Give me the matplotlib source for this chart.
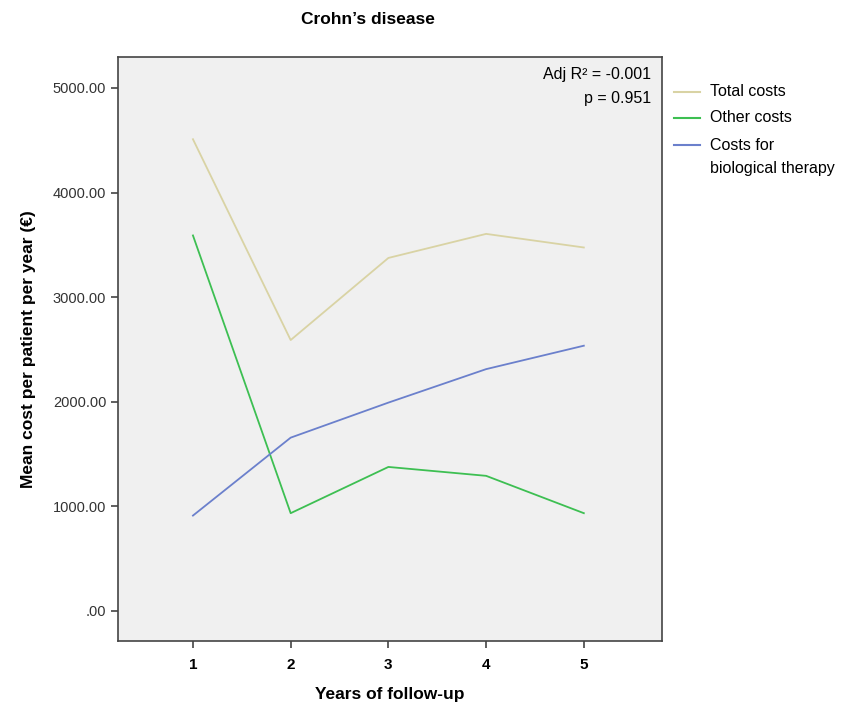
import matplotlib
matplotlib.use("Agg")
import matplotlib.pyplot as plt
from matplotlib.lines import Line2D

plt.rcParams['font.family'] = ['Liberation Sans', 'DejaVu Sans']

# Mean cost per patient per year by year of follow-up
years = [1, 2, 3, 4, 5]
total_costs = [4510, 2590, 3375, 3605, 3475]
other_costs = [3590, 935, 1377, 1292, 935]
bio_costs = [912, 1657, 1992, 2312, 2536]

series_labels = ["Total costs", "Other costs", "Costs for\nbiological therapy"]
series_colors = ["#D9D3A4", "#3DBF52", "#6B80CC"]

y_ticks = [0, 1000, 2000, 3000, 4000, 5000]
y_tick_labels = [".00", "1000.00", "2000.00", "3000.00", "4000.00", "5000.00"]

W, H = 844, 710
fig = plt.figure(figsize=(W / 100, H / 100), dpi=100)
ax = fig.add_axes([118 / W, 1 - 641 / H, (662 - 118) / W, (641 - 57) / H])
ax.set_facecolor("#F0F0F0")

for vals, col in zip([total_costs, other_costs, bio_costs], series_colors):
    ax.plot(years, vals, color=col, lw=1.3)

ax.set_xlim(0.233, 5.8)
ax.set_ylim(-287, 5296)
ax.set_xticks(years)
ax.set_xticklabels([str(y) for y in years], fontsize=11, fontweight="bold")
ax.set_yticks(y_ticks)
ax.set_yticklabels(y_tick_labels, fontsize=10.5, color="#333333")
ax.tick_params(axis="both", direction="out", length=5, width=1.2, color="#444444")
ax.tick_params(axis="x", pad=7)
for sp in ax.spines.values():
    sp.set_color("#444444")
    sp.set_linewidth(1.2)

ax.set_xlabel("Years of follow-up", fontsize=12.5, fontweight="bold", labelpad=11)
ax.set_ylabel("Mean cost per patient per year (€)", fontsize=12.5, fontweight="bold", labelpad=12)

fig.text(368 / W, 1 - 20 / H, "Crohn\u2019s disease", ha="center", va="center",
         fontsize=12.5, fontweight="bold")

ax.text(651 / W, 1 - 75 / H, "Adj R\u00b2 = -0.001", transform=fig.transFigure,
        ha="right", va="center", fontsize=11.5)
ax.text(651 / W, 1 - 98 / H, "p = 0.951", transform=fig.transFigure,
        ha="right", va="center", fontsize=11.5)

# legend drawn by hand, outside the plot area; one text per line
legend_rows = [92, 118, 145]
for lab, col, yp in zip(series_labels, series_colors, legend_rows):
    fig.add_artist(Line2D([674 / W, 700 / W], [1 - yp / H, 1 - yp / H],
                          transform=fig.transFigure, color=col, lw=1.5))
    for i, part in enumerate(lab.split("\n")):
        fig.text(710 / W, 1 - (yp + 24 * i) / H, part, ha="left", va="center",
                 fontsize=11.5)

fig.savefig("out.png", dpi=100)
